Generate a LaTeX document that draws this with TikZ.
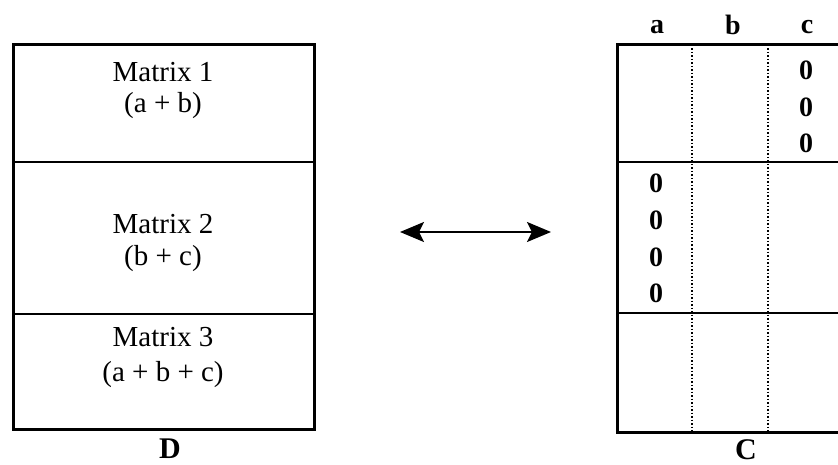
\documentclass[tikz,border=0pt]{standalone}
\usepackage{fontspec}
\setmainfont{Liberation Serif}
\usetikzlibrary{arrows.meta}
\begin{document}
\begin{tikzpicture}[x=1pt,y=-1pt,
  txt/.style={inner sep=0pt,font=\fontsize{29}{34}\selectfont},
  btxt/.style={inner sep=0pt,font=\fontsize{28}{32}\selectfont\bfseries},
  lbl/.style={inner sep=0pt,font=\fontsize{30}{36}\selectfont\bfseries},
  outer/.style={line width=3pt},
  divider/.style={line width=1.8pt},
  dotline/.style={line width=1.5pt,dotted},
  conn/.style={line width=2.2pt,{Stealth[length=24pt,width=20pt,inset=5pt]}-{Stealth[length=24pt,width=20pt,inset=5pt]}}]
\useasboundingbox (0,0) rectangle (838,465);
% Left box D
\draw[outer] (13,45) rectangle (314,429);
\draw[divider] (13,162) -- (314,162);
\draw[divider] (13,314) -- (314,314);
\node[txt] (m1) at (163,72) {Matrix 1};
\node[txt] (m1s) at (163,106) {(a + b)};
\node[txt] (m2) at (163,224) {Matrix 2};
\node[txt] (m2s) at (163,259) {(b + c)};
\node[txt] (m3) at (163,337) {Matrix 3};
\node[txt] (m3s) at (163,375) {(a + b + c)};
\node[lbl] (D) at (170,449) {D};
% Arrow
\coordinate (al) at (400,232);
\coordinate (ar) at (551,232);
\draw[conn] (al) -- (ar);
% Right box C
\begin{scope}
\clip (0,0) rectangle (838,465);
\draw[outer] (617,45) rectangle (845,432);
\draw[divider] (617,162) -- (845,162);
\draw[divider] (617,313) -- (845,313);
\draw[dotline] (692,45) -- (692,432);
\draw[dotline] (768,45) -- (768,432);
\end{scope}
\node[btxt] (ca) at (657,27) {a};
\node[btxt] (cb) at (733,25) {b};
\node[btxt] (cc) at (807,27) {c};
\node[btxt] (z1) at (806,70) {0};
\node[btxt] (z2) at (806,107) {0};
\node[btxt] (z3) at (806,143) {0};
\node[btxt] (z4) at (656,183) {0};
\node[btxt] (z5) at (656,220) {0};
\node[btxt] (z6) at (656,257) {0};
\node[btxt] (z7) at (656,293) {0};
\node[lbl] (C) at (746,450) {C};
\end{tikzpicture}
\end{document}
